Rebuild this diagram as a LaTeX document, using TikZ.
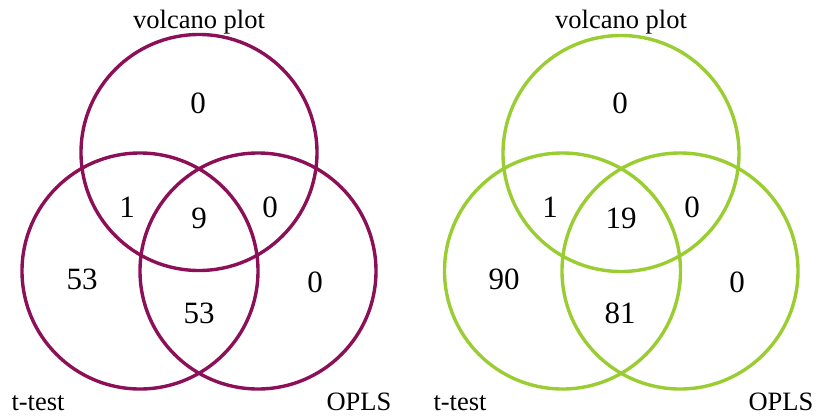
\documentclass[tikz,border=0pt]{standalone}
\usepackage{fontspec}
\setmainfont{Liberation Serif}
\definecolor{plum}{RGB}{139,16,88}
\definecolor{leaf}{RGB}{154,205,50}
\begin{document}
\begin{tikzpicture}[x=1pt,y=-1pt,
  setcircle/.style={draw, line width=3.4pt},
  count/.style={font=\fontsize{31}{31}\selectfont, inner sep=0pt, anchor=center},
  setname/.style={font=\fontsize{26.5}{26.5}\selectfont, inner sep=0pt, anchor=base}]
\useasboundingbox (0,0) rectangle (816,416);

% ---- first diagram ----
\begin{scope}[plum]
  \draw[setcircle] (199,152.5) circle (118);
  \draw[setcircle] (140,271) circle (118);
  \draw[setcircle] (258,271) circle (118);
\end{scope}
\node[setname] (la) at (199,28) {volcano plot};
\node[setname] (lb) at (38,410) {t-test};
\node[setname] (lc) at (359,410) {OPLS};
\node[count] (a1) at (198,103) {0};
\node[count] (a2) at (127,207) {1};
\node[count] (a3) at (199,218) {9};
\node[count] (a4) at (270,207) {0};
\node[count] (a5) at (82,279) {53};
\node[count] (a6) at (199,313) {53};
\node[count] (a7) at (315,282) {0};

% ---- second diagram ----
\begin{scope}[leaf]
  \draw[setcircle] (621,153.5) circle (118);
  \draw[setcircle] (562.5,271) circle (118);
  \draw[setcircle] (680,271) circle (118);
\end{scope}
\node[setname] (ra) at (621,28) {volcano plot};
\node[setname] (rb) at (460,410) {t-test};
\node[setname] (rc) at (781,410) {OPLS};
\node[count] (b1) at (620,103) {0};
\node[count] (b2) at (550,207) {1};
\node[count] (b3) at (621,218) {19};
\node[count] (b4) at (692,207) {0};
\node[count] (b5) at (504,279) {90};
\node[count] (b6) at (620,313) {81};
\node[count] (b7) at (737,282) {0};
\end{tikzpicture}
\end{document}
